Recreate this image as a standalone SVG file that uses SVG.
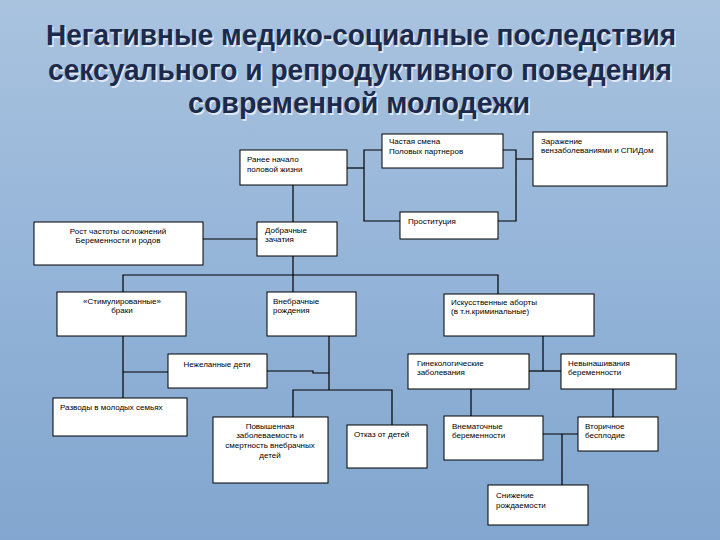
<svg xmlns="http://www.w3.org/2000/svg" width="720" height="540" viewBox="0 0 720 540">
<defs>
<linearGradient id="bg" x1="0" y1="0" x2="0" y2="1">
<stop offset="0" stop-color="#a9c3df"/>
<stop offset="0.5" stop-color="#94b4d8"/>
<stop offset="1" stop-color="#82a6cf"/>
</linearGradient>
</defs>
<style>
.box{fill:#ffffff;stroke:#000000;stroke-width:1}
.t{font-family:"Liberation Sans",Arial,sans-serif;font-size:8px;fill:#000000}
.c{text-anchor:middle}
.ln{fill:none;stroke:#000000;stroke-width:1.2}
.ttl{font-family:"Liberation Sans",Arial,sans-serif;font-size:29px;font-weight:bold;text-anchor:middle}
</style>
<rect x="0" y="0" width="720" height="540" fill="url(#bg)"/>
<g id="title">
<g fill="#dfe8f3" transform="translate(1.5,1.5)">
<text class="ttl" x="361" y="45" textLength="630" lengthAdjust="spacingAndGlyphs">Негативные медико-социалные последствия</text>
<text class="ttl" x="360" y="80" textLength="624" lengthAdjust="spacingAndGlyphs">сексуального и репродуктивного поведения</text>
<text class="ttl" x="359" y="113" textLength="342" lengthAdjust="spacingAndGlyphs">современной молодежи</text>
</g>
<g fill="#1c2a4c">
<text class="ttl" x="361" y="45" textLength="630" lengthAdjust="spacingAndGlyphs">Негативные медико-социалные последствия</text>
<text class="ttl" x="360" y="80" textLength="624" lengthAdjust="spacingAndGlyphs">сексуального и репродуктивного поведения</text>
<text class="ttl" x="359" y="113" textLength="342" lengthAdjust="spacingAndGlyphs">современной молодежи</text>
</g>
</g>
<g id="connectors">
<polyline class="ln" points="347,168 364,168"/>
<polyline class="ln" points="382,150 364,150 364,221 400,221"/>
<polyline class="ln" points="503,150 516,150 516,221 498,221"/>
<polyline class="ln" points="516,159 533,159"/>
<polyline class="ln" points="293,185 293,222"/>
<polyline class="ln" points="203,239 257,239"/>
<polyline class="ln" points="293,256 293,275"/>
<polyline class="ln" points="123,292 123,275 498,275 498,294"/>
<polyline class="ln" points="293,275 293,292"/>
<polyline class="ln" points="123,336 123,398"/>
<polyline class="ln" points="123,372 168,372"/>
<polyline class="ln" points="329,336 329,390"/>
<polyline class="ln" points="267,371 313,371 313,373 329,373"/>
<polyline class="ln" points="293,417 293,390 392,390 392,425"/>
<polyline class="ln" points="543,336 543,371"/>
<polyline class="ln" points="529,371 561,371"/>
<polyline class="ln" points="471,389 471,416"/>
<polyline class="ln" points="613,389 613,417"/>
<polyline class="ln" points="543,434 578,434"/>
<polyline class="ln" points="562,434 562,485"/>
</g>
<g id="n-ranee">
<rect class="box" x="240" y="150" width="107" height="35"/>
<text class="t" x="247" y="162">Ранее начало</text>
<text class="t" x="247" y="172">половой  жизни</text>
</g>
<g id="n-chastaya">
<rect class="box" x="382" y="134" width="121" height="34"/>
<text class="t" x="389" y="144">Частая смена</text>
<text class="t" x="389" y="154">Половых партнеров</text>
</g>
<g id="n-zarazhenie">
<rect class="box" x="533" y="132" width="134" height="54"/>
<text class="t" x="541" y="144">Заражение</text>
<text class="t" x="541" y="153">вензаболеваниями  и СПИДом</text>
</g>
<g id="n-prostitutsiya">
<rect class="box" x="400" y="212" width="98" height="27"/>
<text class="t" x="408" y="224">Проституция</text>
</g>
<g id="n-rost">
<rect class="box" x="34" y="222" width="169" height="43"/>
<text class="t c" x="118" y="234">Рост частоты осложнений</text>
<text class="t c" x="118" y="243">Беременности и родов</text>
</g>
<g id="n-dobrachnye">
<rect class="box" x="257" y="222" width="80" height="34"/>
<text class="t" x="265" y="233">Добрачные</text>
<text class="t" x="265" y="242">зачатия</text>
</g>
<g id="n-stimul">
<rect class="box" x="57" y="292" width="129" height="44"/>
<text class="t c" x="122" y="304">«Стимулированные»</text>
<text class="t c" x="122" y="313">браки</text>
</g>
<g id="n-vnebrachnye">
<rect class="box" x="267" y="292" width="89" height="44"/>
<text class="t" x="273" y="304">Внебрачные</text>
<text class="t" x="273" y="313">рождения</text>
</g>
<g id="n-aborty">
<rect class="box" x="444" y="294" width="150" height="42"/>
<text class="t" x="451" y="305">Искусственные аборты</text>
<text class="t" x="451" y="314">(в т.н.криминальные)</text>
</g>
<g id="n-nezhelannye">
<rect class="box" x="168" y="354" width="99" height="34"/>
<text class="t c" x="217" y="367">Нежеланные дети</text>
</g>
<g id="n-ginek">
<rect class="box" x="408" y="354" width="121" height="35"/>
<text class="t" x="417" y="366">Гинекологические</text>
<text class="t" x="417" y="375">заболевания</text>
</g>
<g id="n-nevynash">
<rect class="box" x="561" y="354" width="115" height="35"/>
<text class="t" x="568" y="366">Невынашивания</text>
<text class="t" x="568" y="375">беременности</text>
</g>
<g id="n-razvody">
<rect class="box" x="53" y="398" width="134" height="38"/>
<text class="t" x="60" y="410">Разводы в молодых семьях</text>
</g>
<g id="n-povyshennaya">
<rect class="box" x="213" y="417" width="115" height="66"/>
<text class="t c" x="270" y="429">Повышенная</text>
<text class="t c" x="270" y="438">заболеваемость и</text>
<text class="t c" x="270" y="448">смертность внебрачных</text>
<text class="t c" x="270" y="458">детей</text>
</g>
<g id="n-otkaz">
<rect class="box" x="347" y="425" width="80" height="43"/>
<text class="t" x="354" y="437">Отказ от детей</text>
</g>
<g id="n-vnematochnye">
<rect class="box" x="444" y="416" width="99" height="44"/>
<text class="t" x="452" y="429">Внематочные</text>
<text class="t" x="452" y="438">беременности</text>
</g>
<g id="n-vtorichnoe">
<rect class="box" x="578" y="417" width="80" height="34"/>
<text class="t" x="585" y="429">Вторичное</text>
<text class="t" x="585" y="438">бесплодие</text>
</g>
<g id="n-snizhenie">
<rect class="box" x="488" y="485" width="100" height="40"/>
<text class="t" x="496" y="498">Снижение</text>
<text class="t" x="496" y="508">рождаемости</text>
</g>
</svg>
